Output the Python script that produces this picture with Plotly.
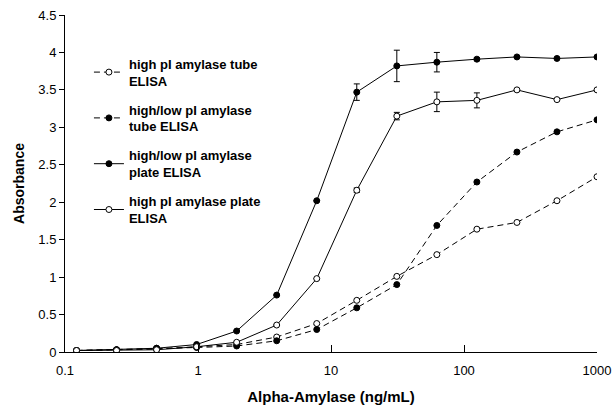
import plotly.graph_objects as go

conc = [0.1220703125, 0.244140625, 0.48828125, 0.9765625, 1.953125, 3.90625, 7.8125,
        15.625, 31.25, 62.5, 125, 250, 500, 1000]

tube_high_pi = [0.02, 0.03, 0.04, 0.07, 0.10, 0.20, 0.38, 0.69, 1.01, 1.30, 1.64, 1.73, 2.02, 2.34]
tube_highlow = [0.02, 0.03, 0.05, 0.06, 0.08, 0.15, 0.30, 0.59, 0.90, 1.69, 2.27, 2.67, 2.94, 3.10]
plate_highlow = [0.02, 0.03, 0.05, 0.10, 0.28, 0.76, 2.02, 3.47, 3.82, 3.87, 3.91, 3.94, 3.92, 3.94]
plate_high_pi = [0.02, 0.02, 0.03, 0.07, 0.13, 0.36, 0.98, 2.16, 3.15, 3.34, 3.36, 3.50, 3.37, 3.50]

plate_highlow_err = [0, 0, 0, 0, 0, 0, 0, 0.11, 0.21, 0.13, 0.02, 0, 0, 0]
plate_high_pi_err = [0, 0, 0, 0, 0, 0, 0, 0.03, 0.05, 0.13, 0.10, 0, 0, 0]

names = ["high pI amylase tube<br>ELISA",
         "high/low pI amylase<br>tube ELISA",
         "high/low pI amylase<br>plate ELISA",
         "high pI amylase plate<br>ELISA"]

y_ticks = [0, 0.5, 1, 1.5, 2, 2.5, 3, 3.5, 4, 4.5]
y_labels = ["0", "0.5", "1", "1.5", "2", "2.5", "3", "3.5", "4", "4.5"]
x_ticks = [0.1, 1, 10, 100, 1000]
x_labels = ["0.1", "1", "10", "100", "1000"]

fig = go.Figure()

def add(y, name, dash, filled, group, err=None):
    kw = {}
    if err is not None:
        kw["error_y"] = dict(type="data", array=err, visible=True,
                             color="black", thickness=1, width=3)
    fig.add_trace(go.Scatter(
        x=conc, y=y, name=name, mode="lines+markers", legendgroup=group,
        line=dict(color="black", width=1, dash=dash),
        marker=dict(symbol="circle", size=6,
                    color="black" if filled else "white",
                    line=dict(color="black", width=1)),
        **kw))

add(tube_high_pi, names[0], "6px,4px", False, "a")
add(tube_highlow, names[1], "6px,4px", True, "b")
add(plate_highlow, names[2], "solid", True, "c", plate_highlow_err)
add(plate_high_pi, names[3], "solid", False, "d", plate_high_pi_err)

fig.update_layout(
    width=613, height=408,
    margin=dict(l=65, r=16, t=15, b=56),
    paper_bgcolor="white", plot_bgcolor="white",
    font=dict(family="Liberation Sans, Arial, sans-serif", color="black", size=13),
    legend=dict(x=0.045, y=0.9, xanchor="left", yanchor="top",
                font=dict(size=13, family="Liberation Sans, Arial, sans-serif", weight="bold"),
                bgcolor="rgba(0,0,0,0)", tracegroupgap=9, itemwidth=30),
    showlegend=True,
)
fig.update_xaxes(type="log", range=[-1, 3], showline=True, linecolor="black", linewidth=1,
                 showgrid=False, zeroline=False, ticks="inside", ticklen=7, tickcolor="black",
                 tickvals=x_ticks, ticktext=x_labels, automargin=False, ticklabelstandoff=6,
                 title=dict(text="<b>Alpha-Amylase (ng/mL)</b>", font=dict(size=15), standoff=14))
fig.update_yaxes(range=[0, 4.5], showline=True, linecolor="black", linewidth=1,
                 showgrid=False, zeroline=False, ticks="outside", ticklen=5, tickcolor="black",
                 tickvals=y_ticks, ticktext=y_labels, automargin=False,
                 title=dict(text="<b>Absorbance</b>", font=dict(size=14), standoff=10))

fig.write_html("out.html")
